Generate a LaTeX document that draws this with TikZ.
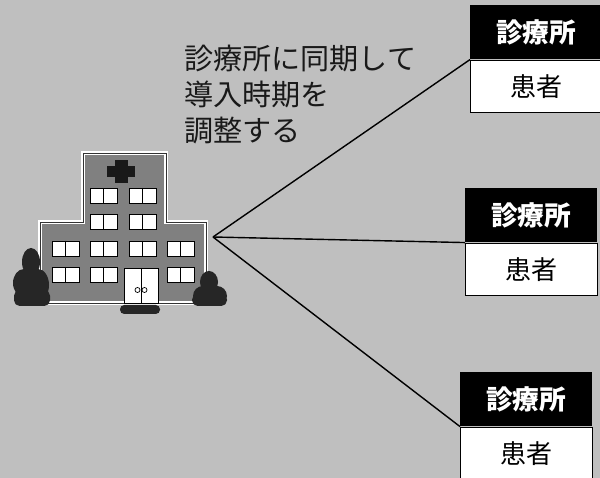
\documentclass[tikz,border=0pt]{standalone}
\usepackage{fontspec}
\newfontfamily\jpfont{Noto Sans CJK JP}
\usetikzlibrary{positioning}

\begin{document}
\begin{tikzpicture}[x=0.025cm,y=-0.025cm,
  clinic/.style={fill=black,text=white,font=\jpfont\bfseries\fontsize{19}{19}\selectfont,minimum width=3.3cm,minimum height=1.35cm,inner sep=0pt},
  patient/.style={draw=black,thick,fill=white,font=\jpfont\fontsize{18.5}{18.5}\selectfont,minimum width=3.3cm,minimum height=1.3cm,inner sep=0pt},
  link/.style={draw=black,line width=1pt},
  win/.style={draw=black,fill=white,line width=0.6pt},
  bush/.style={fill=black!85}
]
% paper
\fill[black!25] (0,0) rectangle (600,478);
\useasboundingbox (0,0) rectangle (600,478);

% hospital body
\draw[fill=black!50,draw=white,line width=2.5pt] (40,303) -- (40,222) -- (83,222) -- (83,153) -- (166,153) -- (166,222) -- (206,222) -- (206,303) -- cycle;
\draw[draw=black!80,line width=0.6pt] (40,303) -- (40,222) -- (83,222) -- (83,153) -- (166,153) -- (166,222) -- (206,222) -- (206,303) -- cycle;
\fill[black!90] (115,160) rectangle (128,183);
\fill[black!90] (107,166) rectangle (135,177);

% windows
\foreach \wx/\wy in {90/188,129/188,90/214,129/214,52/241,90/241,129/241,167/241,52/267,90/267,167/267}{
  \draw[win] (\wx,\wy) rectangle ++(27,15);
  \draw[black,line width=0.6pt] (\wx+13.5,\wy) -- ++(0,15);
}

% entrance
\draw[win] (124,268) rectangle (158,303);
\draw[black,line width=0.6pt] (141,268) -- (141,303);
\draw[black,line width=0.5pt] (137.5,290) circle (2.5) (144.5,290) circle (2.5);
\fill[black!85,rounded corners=3pt] (120,305) rectangle (160,314);

% shrubs
\fill[bush] (31,262) ellipse (9 and 14);
\fill[bush] (24,283) ellipse (11 and 14);
\fill[bush] (38,285) ellipse (11 and 16);
\fill[bush,rounded corners=4pt] (14,290) rectangle (50,306);
\fill[bush] (209,282) ellipse (9 and 11);
\fill[bush] (203,296) ellipse (10 and 10);
\fill[bush] (217,296) ellipse (10 and 10);
\fill[bush,rounded corners=4pt] (192,294) rectangle (227,306);

\coordinate (hub) at (213,237);

\node[anchor=north west,align=left,text=black!90,font=\jpfont\fontsize{20.7}{25.6}\selectfont,inner sep=0pt] (note) at (184,45) {診療所に同期して\\導入時期を\\調整する};

\node[clinic,anchor=north west] (c1) at (470,5) {診療所};
\node[patient,below=0pt of c1] (p1) {患者};
\node[clinic,anchor=north west] (c2) at (465,188) {診療所};
\node[patient,below=0pt of c2] (p2) {患者};
\node[clinic,anchor=north west] (c3) at (460,372) {診療所};
\node[patient,below=0pt of c3] (p3) {患者};

\draw[link] (hub) -- (c1.south west);
\draw[link] (hub) -- (c2.south west);
\draw[link] (hub) -- (c3.south west);
\end{tikzpicture}
\end{document}
